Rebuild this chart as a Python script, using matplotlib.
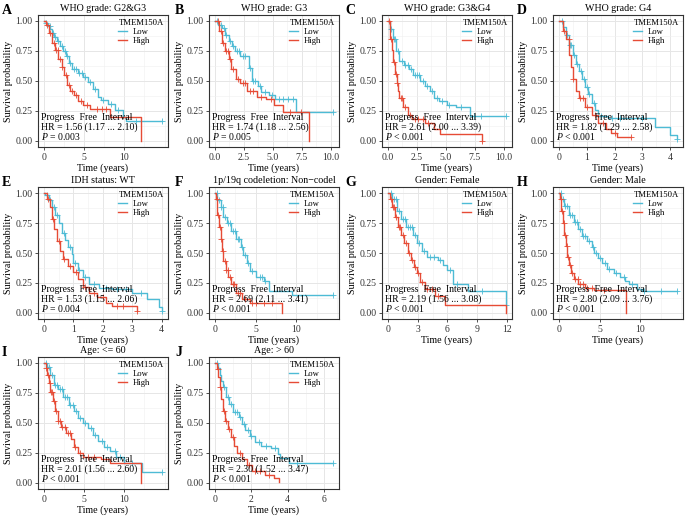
import numpy as np
import matplotlib.pyplot as plt
from matplotlib.ticker import AutoMinorLocator, FormatStrFormatter

plt.rcParams['font.family'] = ['Liberation Serif', 'DejaVu Serif']
plt.rcParams['mathtext.fontset'] = 'custom'
plt.rcParams['mathtext.rm'] = 'Liberation Serif'
plt.rcParams['mathtext.it'] = 'Liberation Serif:italic'

LOW = '#4DBBD5'
HIGH = '#E64B35'

# ---- data (KM steps: time, survival; censor times) ----
A_low_t = [0, 0.2, 0.5, 0.8, 1.0, 1.3, 1.6, 2.0, 2.4, 2.8, 3.1, 3.5, 4.2, 4.9, 5.5, 6.1, 6.7, 7.1, 8.0, 8.8, 9.8, 10.2, 14.7]
A_low_s = [1, 0.98, 0.96, 0.93, 0.90, 0.87, 0.83, 0.79, 0.75, 0.71, 0.65, 0.60, 0.57, 0.53, 0.49, 0.43, 0.37, 0.34, 0.31, 0.26, 0.20, 0.17, 0.17]
A_low_c = [0.3, 0.7, 1.1, 1.4, 1.8, 2.2, 2.6, 2.9, 3.3, 3.8, 4.0, 4.4, 4.7, 5.1, 5.7, 6.3, 7.4, 8.4, 9.2, 11.5, 14.7]
A_high_t = [0, 0.2, 0.6, 1.0, 1.4, 1.8, 2.2, 2.5, 2.9, 3.3, 3.7, 4.3, 4.9, 5.7, 8.2, 12.1]
A_high_s = [1, 0.97, 0.90, 0.82, 0.76, 0.68, 0.62, 0.55, 0.47, 0.42, 0.38, 0.33, 0.30, 0.27, 0.20, 0.0]
A_high_c = [0.4, 0.8, 1.2, 1.5, 1.7, 2.0, 2.3, 2.7, 3.1, 3.5, 4.0, 4.6, 5.3, 6.6, 7.2, 7.7]

B_low_t = [0, 0.3, 0.6, 0.9, 1.2, 1.5, 1.7, 2.2, 2.9, 3.2, 3.7, 4.0, 4.7, 5.2, 7.0, 10.2]
B_low_s = [1, 0.97, 0.94, 0.88, 0.83, 0.79, 0.75, 0.71, 0.61, 0.50, 0.46, 0.41, 0.38, 0.35, 0.24, 0.24]
B_low_c = [0.2, 0.5, 0.8, 1.0, 1.3, 1.6, 1.9, 2.1, 2.4, 2.6, 3.0, 3.3, 3.5, 3.9, 4.3, 4.9, 5.5, 5.9, 6.3, 6.7, 10.2]
B_high_t = [0, 0.35, 0.6, 0.9, 1.2, 1.4, 1.8, 2.2, 2.8, 3.6, 4.4, 5.1, 5.9, 8.1]
B_high_s = [1, 0.92, 0.82, 0.75, 0.68, 0.60, 0.52, 0.48, 0.42, 0.37, 0.35, 0.30, 0.24, 0.0]
B_high_c = [0.3, 0.5, 0.7, 1.0, 1.1, 1.3, 1.6, 2.0, 2.4, 2.6, 3.0, 3.3, 4.0, 4.8, 6.5, 7.4]

C_low_t = [0, 0.2, 0.45, 0.7, 1.0, 1.4, 1.8, 2.2, 2.8, 3.2, 3.6, 4.0, 4.4, 5.1, 5.9, 7.1, 10.2]
C_low_s = [1, 0.93, 0.85, 0.75, 0.67, 0.63, 0.60, 0.55, 0.50, 0.46, 0.42, 0.36, 0.33, 0.30, 0.28, 0.21, 0.21]
C_low_c = [0.3, 0.5, 0.6, 0.9, 1.2, 1.5, 1.7, 2.0, 2.3, 2.5, 2.7, 3.0, 3.4, 3.8, 4.2, 4.7, 5.3, 6.3, 7.4, 8.0, 10.2]
C_high_t = [0, 0.2, 0.35, 0.45, 0.6, 0.75, 0.9, 1.0, 1.3, 1.7, 2.1, 3.2, 4.0, 4.5, 8.1]
C_high_s = [1, 0.85, 0.76, 0.66, 0.56, 0.48, 0.42, 0.36, 0.28, 0.22, 0.18, 0.15, 0.10, 0.06, 0.0]
C_high_c = [0.1, 0.3, 0.5, 0.7, 0.8, 1.1, 1.2, 1.5, 1.9, 2.3, 2.6, 3.0, 3.5, 8.1]

D_low_t = [0, 0.15, 0.26, 0.38, 0.5, 0.6, 0.72, 0.83, 0.95, 1.06, 1.18, 1.3, 1.4, 1.75, 3.46, 3.98, 4.25]
D_low_s = [1, 0.95, 0.88, 0.80, 0.72, 0.64, 0.58, 0.52, 0.45, 0.39, 0.32, 0.26, 0.21, 0.19, 0.12, 0.05, 0.02]
D_low_c = [0.1, 0.3, 0.4, 0.45, 0.55, 0.65, 0.8, 0.9, 1.0, 1.1, 1.25, 1.5, 1.9, 2.2, 3.0, 4.25]
D_high_t = [0, 0.15, 0.26, 0.38, 0.43, 0.5, 0.6, 0.72, 0.95, 1.18, 1.4, 1.7, 1.86, 2.1, 2.6]
D_high_s = [1, 0.92, 0.85, 0.72, 0.62, 0.52, 0.42, 0.36, 0.28, 0.22, 0.15, 0.10, 0.07, 0.03, 0.03]
D_high_c = [0.2, 0.35, 0.5, 0.75, 0.85, 1.0, 1.3, 1.6, 2.0, 2.6]

E_low_t = [0, 0.05, 0.17, 0.28, 0.39, 0.5, 0.6, 0.72, 0.83, 0.94, 1.0, 1.15, 1.32, 1.54, 1.87, 2.3, 3.0, 3.5, 3.9, 4.02]
E_low_s = [1, 0.98, 0.94, 0.88, 0.82, 0.75, 0.67, 0.61, 0.55, 0.49, 0.42, 0.36, 0.30, 0.24, 0.21, 0.20, 0.17, 0.12, 0.05, 0.02]
E_low_c = [0.1, 0.2, 0.35, 0.45, 0.7, 0.9, 1.05, 1.2, 1.4, 1.7, 2.1, 2.5, 2.8, 3.3, 4.02]
E_high_t = [0, 0.1, 0.22, 0.28, 0.33, 0.44, 0.55, 0.66, 0.83, 1.0, 1.15, 1.32, 1.54, 1.82, 2.1, 2.3, 3.15]
E_high_s = [1, 0.95, 0.88, 0.78, 0.70, 0.60, 0.52, 0.45, 0.39, 0.34, 0.28, 0.22, 0.17, 0.13, 0.08, 0.06, 0.02]
E_high_c = [0.15, 0.3, 0.5, 0.7, 0.9, 1.1, 1.4, 1.7, 2.0, 2.5, 2.7, 3.15]

F_low_t = [0, 0.3, 0.7, 1.05, 1.45, 2.0, 2.6, 3.15, 3.5, 3.9, 4.3, 5.05, 6.0, 6.6, 9.4, 14.5]
F_low_s = [1, 0.94, 0.88, 0.80, 0.75, 0.68, 0.62, 0.55, 0.48, 0.42, 0.35, 0.30, 0.27, 0.18, 0.15, 0.15]
F_low_c = [0.2, 0.5, 0.8, 1.0, 1.2, 1.6, 1.9, 2.2, 2.5, 2.8, 3.0, 3.3, 3.7, 4.1, 4.6, 5.5, 5.8, 6.2, 14.5]
F_high_t = [0, 0.1, 0.3, 0.5, 0.7, 0.9, 1.05, 1.3, 1.65, 2.0, 2.6, 3.35, 4.3, 8.2]
F_high_s = [1, 0.95, 0.82, 0.72, 0.62, 0.52, 0.43, 0.36, 0.30, 0.24, 0.17, 0.12, 0.08, 0.0]
F_high_c = [0.2, 0.4, 0.6, 0.8, 1.0, 1.2, 1.4, 1.6, 1.8, 2.2, 2.4, 2.8, 3.1, 3.7, 4.5, 5.0, 6.0, 7.0]

G_low_t = [0, 0.4, 0.9, 1.35, 1.8, 2.5, 2.95, 3.4, 3.9, 5.0, 5.5, 6.0, 6.6, 8.1, 11.9]
G_low_s = [1, 0.95, 0.85, 0.78, 0.72, 0.65, 0.58, 0.52, 0.47, 0.44, 0.40, 0.36, 0.24, 0.18, 0.07]
G_low_c = [0.3, 0.6, 0.8, 1.1, 1.5, 1.7, 2.0, 2.2, 2.4, 2.7, 3.1, 3.6, 4.2, 4.6, 5.2, 6.3, 7.0, 9.5, 11.9]
G_high_t = [0, 0.2, 0.4, 0.7, 1.0, 1.35, 1.65, 2.0, 2.3, 2.6, 2.95, 3.25, 3.75, 4.7, 5.7, 11.9]
G_high_s = [1, 0.95, 0.88, 0.80, 0.72, 0.65, 0.58, 0.50, 0.44, 0.38, 0.33, 0.26, 0.20, 0.14, 0.07, 0.0]
G_high_c = [0.3, 0.5, 0.6, 0.8, 1.1, 1.2, 1.5, 1.8, 2.1, 2.4, 2.7, 3.0, 3.4, 3.9, 4.4, 5.0]

H_low_t = [0, 0.3, 0.65, 1.25, 1.8, 2.4, 2.8, 3.4, 4.0, 4.35, 4.75, 5.3, 5.9, 6.7, 7.5, 8.05, 8.6, 9.6, 10.2, 14.5]
H_low_s = [1, 0.95, 0.89, 0.82, 0.76, 0.70, 0.64, 0.60, 0.55, 0.50, 0.46, 0.42, 0.37, 0.33, 0.30, 0.27, 0.24, 0.20, 0.18, 0.18]
H_low_c = [0.2, 0.5, 0.8, 1.0, 1.4, 1.6, 2.0, 2.2, 2.6, 3.0, 3.2, 3.7, 4.2, 4.5, 5.0, 5.6, 6.2, 7.0, 8.0, 9.0, 10.5, 12.5, 14.5]
H_high_t = [0, 0.15, 0.3, 0.45, 0.65, 0.85, 1.05, 1.25, 1.45, 1.8, 2.4, 3.2, 4.35, 8.2]
H_high_s = [1, 0.95, 0.85, 0.75, 0.65, 0.56, 0.47, 0.40, 0.33, 0.28, 0.24, 0.21, 0.19, 0.0]
H_high_c = [0.2, 0.4, 0.6, 0.8, 1.0, 1.1, 1.3, 1.6, 2.0, 2.3, 2.6, 2.9, 3.5, 4.0, 5.5]

I_low_t = [0, 0.4, 0.8, 1.2, 1.75, 2.35, 3.1, 3.7, 4.3, 4.9, 5.5, 6.1, 6.7, 7.45, 8.2, 9.0, 10.0, 12.2, 14.7]
I_low_s = [1, 0.97, 0.90, 0.82, 0.78, 0.72, 0.65, 0.60, 0.54, 0.50, 0.46, 0.40, 0.35, 0.30, 0.27, 0.22, 0.17, 0.09, 0.09]
I_low_c = [0.3, 0.6, 1.0, 1.4, 1.6, 2.0, 2.2, 2.6, 2.9, 3.3, 3.6, 4.0, 4.5, 5.1, 5.8, 6.4, 7.2, 7.8, 8.8, 9.5, 11.0, 14.7]
I_high_t = [0, 0.2, 0.4, 0.6, 0.8, 1.1, 1.35, 1.75, 2.15, 2.75, 3.35, 3.7, 4.3, 4.9, 7.05, 8.2, 12.1]
I_high_s = [1, 0.96, 0.90, 0.83, 0.76, 0.68, 0.60, 0.52, 0.47, 0.42, 0.37, 0.30, 0.25, 0.22, 0.20, 0.17, 0.0]
I_high_c = [0.3, 0.5, 0.7, 0.9, 1.0, 1.2, 1.5, 1.8, 2.0, 2.3, 2.6, 3.0, 3.2, 3.9, 4.5, 5.5, 6.2]

J_low_t = [0, 0.18, 0.26, 0.35, 0.44, 0.62, 0.8, 0.97, 1.32, 1.5, 1.68, 1.94, 2.2, 2.56, 3.1, 3.45, 3.6, 4.05, 6.5]
J_low_s = [1, 0.96, 0.90, 0.85, 0.80, 0.72, 0.66, 0.59, 0.55, 0.49, 0.44, 0.39, 0.34, 0.31, 0.29, 0.24, 0.21, 0.17, 0.17]
J_low_c = [0.1, 0.5, 0.7, 0.9, 1.1, 1.2, 1.4, 1.6, 1.8, 2.0, 2.4, 2.8, 3.3, 4.5, 6.5]
J_high_t = [0, 0.1, 0.18, 0.26, 0.35, 0.44, 0.53, 0.7, 0.88, 1.06, 1.23, 1.5, 1.76, 2.03, 2.73, 3.26, 3.5]
J_high_s = [1, 0.95, 0.88, 0.80, 0.70, 0.60, 0.52, 0.45, 0.38, 0.31, 0.25, 0.20, 0.15, 0.10, 0.07, 0.04, 0.01]
J_high_c = [0.15, 0.3, 0.5, 0.6, 0.8, 1.0, 1.4, 1.9, 2.2, 2.5, 3.0]

letters = ['A', 'B', 'C', 'D', 'E', 'F', 'G', 'H', 'I', 'J']
titles = ['WHO grade: G2&G3', 'WHO grade: G3', 'WHO grade: G3&G4', 'WHO grade: G4',
          'IDH status: WT', '1p/19q codeletion: Non\u2212codel', 'Gender: Female', 'Gender: Male',
          'Age: <= 60', 'Age: > 60']
hr_text = ['HR = 1.56 (1.17 ... 2.10)', 'HR = 1.74 (1.18 ... 2.56)', 'HR = 2.61 (2.00 ... 3.39)',
           'HR = 1.82 (1.29 ... 2.58)', 'HR = 1.53 (1.15 ... 2.06)', 'HR = 2.69 (2.11 ... 3.41)',
           'HR = 2.19 (1.56 ... 3.08)', 'HR = 2.80 (2.09 ... 3.76)', 'HR = 2.01 (1.56 ... 2.60)',
           'HR = 2.30 (1.52 ... 3.47)']
p_text = ['= 0.003', '= 0.005', '< 0.001', '< 0.001', '= 0.004', '< 0.001', '< 0.001', '< 0.001',
          '< 0.001', '< 0.001']
xticks = [[0, 5, 10], [0, 2.5, 5, 7.5, 10], [0, 2.5, 5, 7.5, 10], [0, 1, 2, 3, 4], [0, 1, 2, 3, 4],
          [0, 5, 10], [0, 3, 6, 9, 12], [0, 5, 10], [0, 5, 10], [0, 2, 4, 6]]
xfmt = ['%d', '%.1f', '%.1f', '%d', '%d', '%d', '%d', '%d', '%d', '%d']

curves = {
    'A': (A_low_t, A_low_s, A_low_c, A_high_t, A_high_s, A_high_c),
    'B': (B_low_t, B_low_s, B_low_c, B_high_t, B_high_s, B_high_c),
    'C': (C_low_t, C_low_s, C_low_c, C_high_t, C_high_s, C_high_c),
    'D': (D_low_t, D_low_s, D_low_c, D_high_t, D_high_s, D_high_c),
    'E': (E_low_t, E_low_s, E_low_c, E_high_t, E_high_s, E_high_c),
    'F': (F_low_t, F_low_s, F_low_c, F_high_t, F_high_s, F_high_c),
    'G': (G_low_t, G_low_s, G_low_c, G_high_t, G_high_s, G_high_c),
    'H': (H_low_t, H_low_s, H_low_c, H_high_t, H_high_s, H_high_c),
    'I': (I_low_t, I_low_s, I_low_c, I_high_t, I_high_s, I_high_c),
    'J': (J_low_t, J_low_s, J_low_c, J_high_t, J_high_s, J_high_c),
}

# ---- layout (pixels of a 687x519 figure) ----
W, H = 687, 519
col_left = [38, 209, 382, 553]
row_top = [15, 187, 357]
ax_w, ax_h = 130, 132
letter_x = [2, 175, 345, 517]


def km(ax, t, s, c, color, label):
    t = np.asarray(t, float)
    s = np.asarray(s, float)
    ax.step(t, s, where='post', color=color, lw=1.0, label=label)
    c = np.asarray(c, float)
    idx = np.searchsorted(t, c, side='right') - 1
    ax.plot(c, s[idx], ls='none', marker='+', ms=4, mew=0.6, color=color)


fig = plt.figure(figsize=(W / 100, H / 100), dpi=100)

for k, L in enumerate(letters):
    r, cidx = divmod(k, 4)
    left = col_left[cidx]
    top = row_top[r]
    ax = fig.add_axes([left / W, 1 - (top + ax_h) / H, ax_w / W, ax_h / H])
    lt, ls_, lc, ht, hs, hc = curves[L]
    km(ax, lt, ls_, lc, LOW, 'Low')
    km(ax, ht, hs, hc, HIGH, 'High')

    xmax = max(lt[-1], ht[-1])
    pad = 0.05 * xmax
    ax.set_xlim(-pad, xmax + pad)
    ax.set_ylim(-0.05, 1.05)
    ax.set_xticks(xticks[k])
    ax.xaxis.set_major_formatter(FormatStrFormatter(xfmt[k]))
    ax.set_yticks([0, 0.25, 0.5, 0.75, 1.0])
    ax.yaxis.set_major_formatter(FormatStrFormatter('%.2f'))
    ax.xaxis.set_minor_locator(AutoMinorLocator(2))
    ax.yaxis.set_minor_locator(AutoMinorLocator(2))
    ax.grid(True, which='major', color='#E6E6E6', lw=0.7)
    ax.grid(True, which='minor', color='#F0F0F0', lw=0.4)
    ax.set_axisbelow(True)
    for sp in ax.spines.values():
        sp.set_color('#333333')
        sp.set_linewidth(0.8)
    ax.tick_params(which='major', length=2.5, width=0.6, color='#333333',
                   labelsize=7, labelcolor='#333333', pad=1.5)
    ax.tick_params(which='minor', length=0)
    ax.set_xlabel('Time (years)', fontsize=7.2, labelpad=1)
    ax.set_ylabel('Survival probability', fontsize=7.2, labelpad=2)
    ax.set_title(titles[k], fontsize=7.2, pad=3)

    leg = ax.legend(title='TMEM150A', loc='upper right', fontsize=6.2, title_fontsize=6.2,
                    frameon=False, handlelength=1.0, handletextpad=0.6,
                    borderaxespad=0.1, labelspacing=0.1, alignment='left')

    ax.text(0.02, 0.225, 'Progress  Free  Interval', transform=ax.transAxes,
            fontsize=7, va='center', ha='left')
    ax.text(0.02, 0.15, hr_text[k], transform=ax.transAxes,
            fontsize=7, va='center', ha='left')
    ax.text(0.02, 0.08, '$P$ ' + p_text[k], transform=ax.transAxes,
            fontsize=7, va='center', ha='left')

    fig.text(letter_x[cidx] / W, 1 - (top - 5) / H, L, fontsize=10, fontweight='bold',
             ha='left', va='center')

fig.savefig('out.png', dpi=100)
